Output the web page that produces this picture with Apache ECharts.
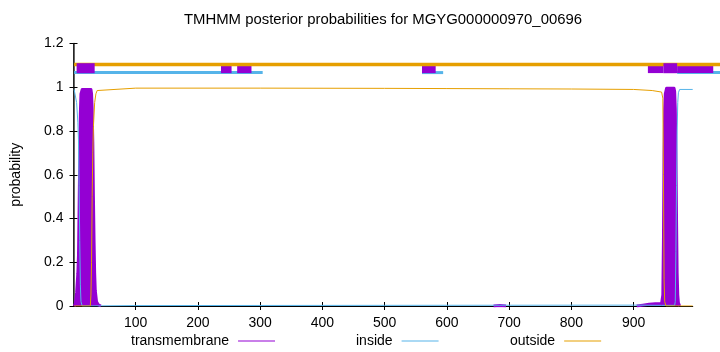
<!DOCTYPE html>
<html><head><meta charset="utf-8">
<script src="https://cdn.jsdelivr.net/npm/echarts@6/dist/echarts.min.js"></script>
<style>html,body{margin:0;padding:0;background:#fff}#c{width:720px;height:352px}</style>
</head><body><div id="c"></div>
<script>
// ---- data ----
const titleText = 'TMHMM posterior probabilities for MGYG000000970_00696';
const seriesNames = ['transmembrane', 'inside', 'outside'];
const xTickValues = [100, 200, 300, 400, 500, 600, 700, 800, 900];
const yTickValues = [0, 0.2, 0.4, 0.6, 0.8, 1, 1.2];
const xRange = [0, 995];

// '-' marks a gap where the transmembrane probability is zero
const transmembrane = [
  [1,0],[3,0.01],[5,0.06],[7,0.15],[8,0.23],[9,0.44],[10,0.68],[11,0.88],[12,0.97],[14,0.99],
  [28,0.99],[29,0.97],[30,0.9],[31,0.75],[32,0.5],[33,0.3],[34,0.15],[35,0.07],[37,0.02],[40,0.005],[44,0],
  [45,'-'],
  [675,0],[685,0.002],[695,0],
  [696,'-'],
  [905,0],[915,0.004],[925,0.008],[935,0.01],[945,0.012],[947,0.05],[948,0.3],[949,0.7],[950,0.9],
  [951,0.97],[953,0.995],[965,0.995],[966,0.98],[967,0.9],[968,0.7],[969,0.4],[970,0.15],[971,0.05],
  [972,0.015],[974,0]
];
const inside = [
  [1,0.99],[3,0.985],[5,0.93],[7,0.84],[8,0.76],[9,0.55],[10,0.3],[11,0.1],[12,0.02],[14,0],
  [100,0.002],[500,0.003],[900,0.004],[945,0.003],[966,0.003],[967,0.02],[968,0.25],[969,0.55],
  [970,0.8],[971,0.93],[972,0.975],[974,0.99],[995,0.99]
];
const outside = [
  [1,0],[27,0],[28,0.05],[29,0.2],[30,0.5],[31,0.7],[32,0.82],[34,0.93],[36,0.97],[38,0.985],[41,0.993],
  [100,0.996],[300,0.996],[500,0.995],[600,0.994],[700,0.993],[800,0.992],[900,0.99],[930,0.985],
  [945,0.978],[946,0.975],[947,0.95],[948,0.6],[949,0.12],[950,0.02],[952,0],[995,0]
];

// predicted topology bands drawn above the curves: [start, end]
const outsideBands = [[1, 1045]];
const insideBands = [[1, 304], [560, 594], [970, 1045]];
const tmBandsLow = [[237, 254], [263, 286], [560, 582], [923, 948], [970, 1028]];
const tmBandsHigh = [[5, 34], [948, 970]];
const bandLevelOutside = 1.104;
const bandLevelInside = 1.067;
const bandLevelTmLow = 1.083;
const bandLevelTmHigh = 1.087;

// ---- chart ----
const FONT = 'Liberation Sans';
const C_TM = '#9400D3', C_IN = '#56B4E9', C_OUT = '#E69F00';

function bandSeries(segs, level, thick, color, z) {
  return {
    type: 'custom', clip: false, silent: true, z: z,
    xAxisIndex: 0, yAxisIndex: 0,
    data: segs.map(s => [s[0], s[1], level]),
    encode: { x: [0, 1], y: 2 },
    renderItem: function (params, api) {
      const p0 = api.coord([api.value(0), api.value(2)]);
      const p1 = api.coord([api.value(1), api.value(2)]);
      return { type: 'rect', shape: { x: p0[0], y: p0[1] - thick / 2, width: p1[0] - p0[0], height: thick },
               style: { fill: color } };
    }
  };
}

const chart = echarts.init(document.getElementById('c'), null, { renderer: 'canvas' });
const legendLefts = [131, 356, 510];
chart.setOption({
  animation: false,
  backgroundColor: '#fff',
  title: { text: titleText, left: 383, textAlign: 'center', top: 12, padding: 0,
           textStyle: { fontFamily: FONT, fontSize: 14.9, fontWeight: 'normal', color: '#000' } },
  legend: seriesNames.map((n, i) => ({
    data: [n], left: legendLefts[i], top: 334, align: 'right', orient: 'horizontal',
    icon: 'rect', itemWidth: 37, itemHeight: 1, selectedMode: false, padding: 0,
    textStyle: { fontFamily: FONT, fontSize: 14, color: '#000', padding: [0, 4, 0, 0] }
  })),
  grid: { left: 73.5, right: 27.3, top: 43.5, bottom: 46, containLabel: false },
  xAxis: [
    { type: 'value', min: xRange[0], max: xRange[1], position: 'bottom',
      axisLine: { show: true, lineStyle: { color: '#000', width: 1 } },
      axisTick: { inside: true, length: 4, customValues: xTickValues, lineStyle: { color: '#000' } },
      axisLabel: { customValues: xTickValues, margin: 10, fontFamily: FONT, fontSize: 14, color: '#000' },
      splitLine: { show: false } },
    { type: 'value', min: xRange[0], max: xRange[1], position: 'top',
      axisLine: { show: true, lineStyle: { color: '#000', width: 1 } },
      axisTick: { inside: true, length: 4, customValues: xTickValues, lineStyle: { color: '#000' } },
      axisLabel: { show: false }, splitLine: { show: false } }
  ],
  yAxis: [
    { type: 'value', min: 0, max: 1.2, interval: 0.2, position: 'left',
      name: 'probability', nameLocation: 'middle', nameRotate: 90, nameGap: 50,
      nameTextStyle: { fontFamily: FONT, fontSize: 14, color: '#000' },
      axisLine: { show: true, lineStyle: { color: '#000', width: 1 } },
      axisTick: { inside: true, length: 4, lineStyle: { color: '#000' } },
      axisLabel: { margin: 10, fontFamily: FONT, fontSize: 14, color: '#000',
                   formatter: v => String(+(+v).toFixed(1)) },
      splitLine: { show: false } },
    { type: 'value', min: 0, max: 1.2, interval: 0.2, position: 'right',
      axisLine: { show: true, lineStyle: { color: '#333', width: 1.5 } },
      axisTick: { inside: true, length: 4, lineStyle: { color: '#000' } },
      axisLabel: { show: false }, splitLine: { show: false } }
  ],
  series: [
    { type: 'line', name: seriesNames[0], data: transmembrane, symbol: 'none', z: 2, connectNulls: false,
      lineStyle: { color: C_TM, width: 3, join: 'round' }, itemStyle: { color: C_TM },
      areaStyle: { color: C_TM, opacity: 1 } },
    { type: 'line', name: seriesNames[1], data: inside, symbol: 'none', z: 2,
      lineStyle: { color: C_IN, width: 1 }, itemStyle: { color: C_IN } },
    { type: 'line', name: seriesNames[2], data: outside, symbol: 'none', z: 2,
      lineStyle: { color: C_OUT, width: 1 }, itemStyle: { color: C_OUT } },
    bandSeries(insideBands, bandLevelInside, 3, C_IN, 3),
    bandSeries(tmBandsLow, bandLevelTmLow, 8, C_TM, 4),
    bandSeries(outsideBands, bandLevelOutside, 3.7, C_OUT, 5),
    bandSeries(tmBandsHigh, bandLevelTmHigh, 10, C_TM, 6)
  ]
});
</script>
</body></html>
